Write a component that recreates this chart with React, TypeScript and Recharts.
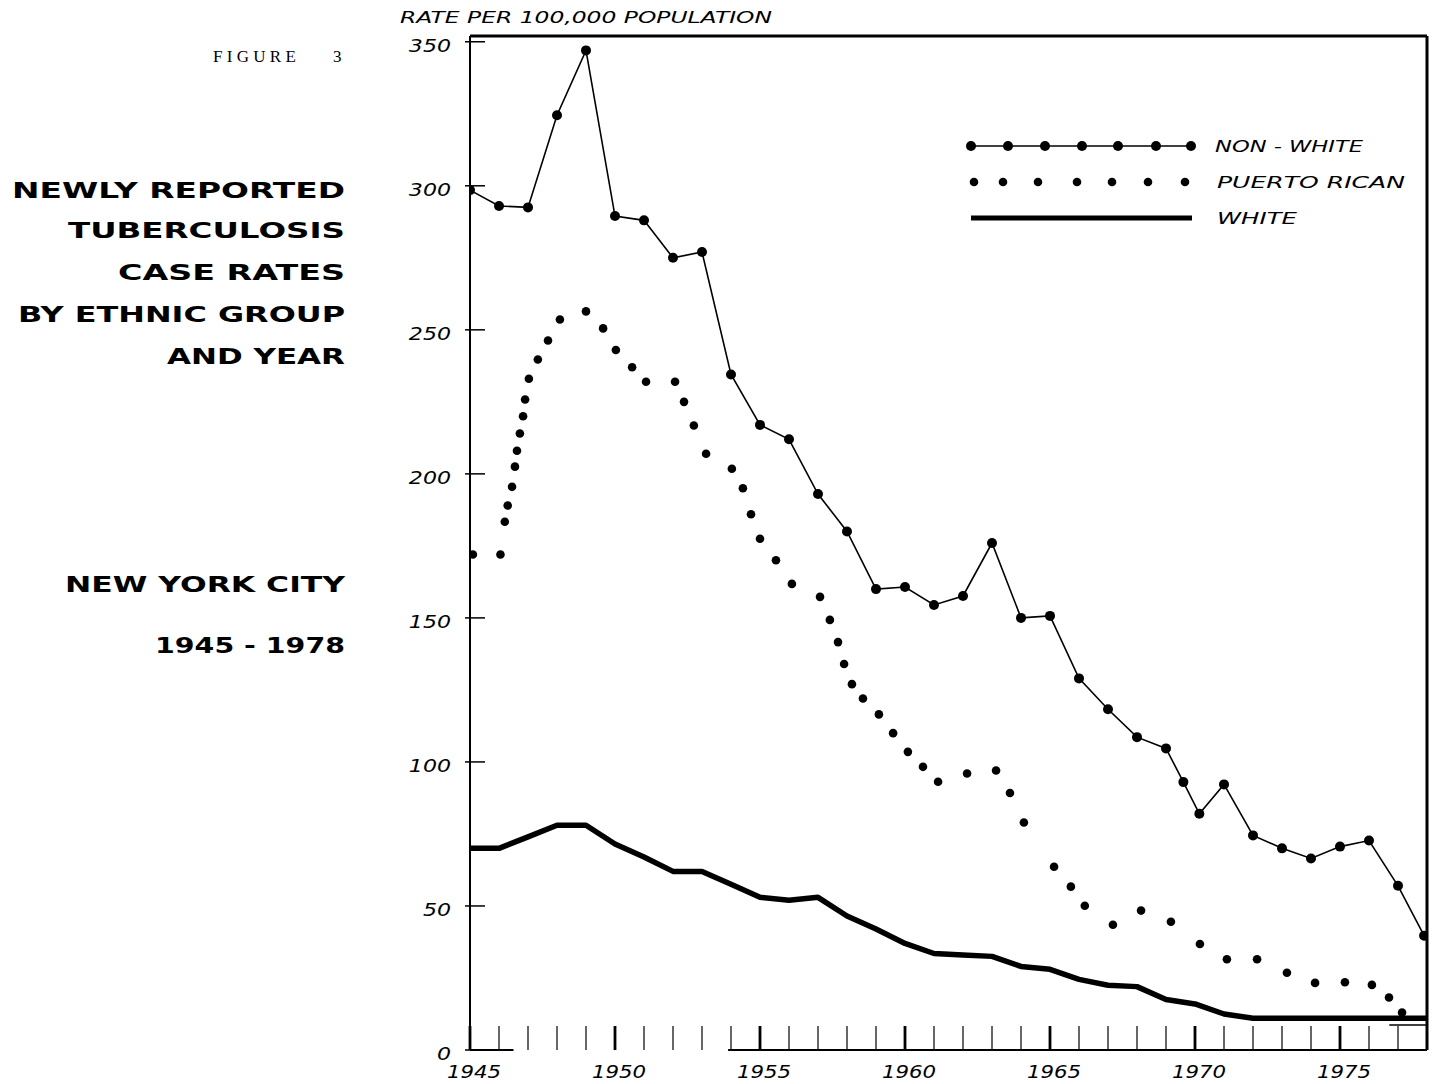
import React from "react";
import { ComposedChart, Line, XAxis, YAxis, ReferenceLine, Legend } from "recharts";

// Non-white: one point per year, plus an extra reading between 1969 and 1970
const nonWhiteYears = [
  1945, 1946, 1947, 1948, 1949, 1950, 1951, 1952, 1953, 1954, 1955, 1956, 1957,
  1958, 1959, 1960, 1961, 1962, 1963, 1964, 1965, 1966, 1967, 1968, 1969, 1969.6,
  1970.15, 1971, 1972, 1973, 1974, 1975, 1976, 1977, 1977.9,
];
const nonWhiteRates = [
  298.5, 293, 292.5, 324.5, 347, 289.5, 288, 275, 277, 234.5, 217, 212, 193,
  180, 160, 160.7, 154.5, 157.6, 176, 150, 150.7, 129, 118.3, 108.6, 104.7, 93,
  82, 92.2, 74.5, 70, 66.5, 70.6, 72.7, 57, 39.7,
];

// Puerto Rican: drawn as a dotted curve, each dot
const prYears = [
  1945.1, 1946.05, 1946.2, 1946.3, 1946.45, 1946.55, 1946.62, 1946.72, 1946.83,
  1946.9, 1947.03, 1947.34, 1947.69, 1948.1, 1949.0, 1949.59, 1950.03, 1950.59,
  1951.07, 1952.07, 1952.38, 1952.72, 1953.14, 1954.03, 1954.41, 1954.69,
  1955.0, 1955.55, 1956.1, 1957.07, 1957.41, 1957.69, 1957.9, 1958.17, 1958.55,
  1959.1, 1959.59, 1960.1, 1960.62, 1961.14, 1962.14, 1963.14, 1963.62, 1964.1,
  1965.14, 1965.72, 1966.2, 1967.17, 1968.14, 1969.17, 1970.17, 1971.1, 1972.14,
  1973.17, 1974.14, 1975.17, 1976.1, 1976.69, 1977.14,
];
const prRates = [
  172, 172, 183.4, 189, 195.5, 202.5, 208, 214, 220, 225.8, 233, 239.7, 246.3,
  253.6, 256.4, 250.5, 243, 237, 232, 232, 225, 216.8, 207, 201.8, 195, 186,
  177.5, 170, 161.8, 157.3, 149.3, 141.6, 134, 127, 122, 116.5, 110, 103.5, 98.3,
  93.1, 96, 97, 89.2, 79, 63.6, 56.7, 50.1, 43.5, 48.4, 44.5, 36.8, 31.5, 31.5,
  26.8, 23.3, 23.5, 22.6, 18.2, 13,
];

// White: heavy solid line
const whiteYears = [
  1945, 1946, 1947, 1948, 1949, 1950, 1951, 1952, 1953, 1954, 1955, 1956, 1957,
  1958, 1959, 1960, 1961, 1962, 1963, 1964, 1965, 1966, 1967, 1968, 1969, 1970,
  1971, 1972, 1973, 1974, 1975, 1976, 1977, 1978,
];
const whiteRates = [
  70, 70, 74, 78, 78, 71.5, 67, 62, 62, 57.5, 53, 52, 53, 46.5, 42, 37, 33.5, 33,
  32.5, 29, 28, 24.5, 22.5, 22, 17.5, 16, 12.5, 11, 11, 11, 11, 11, 11, 11,
];
const whiteTailYears = [1976.7, 1978];
const whiteTailRates = [8.7, 8.7];

const yTicks = [0, 50, 100, 150, 200, 250, 300, 350];
const xTicks = Array.from({ length: 34 }, (_, i) => 1945 + i);

const zip = (xs: number[], ys: number[]) => xs.map((year, i) => ({ year, rate: ys[i] }));
const nonWhiteData = zip(nonWhiteYears, nonWhiteRates);
const prData = zip(prYears, prRates);
const whiteData = zip(whiteYears, whiteRates);
const whiteTailData = zip(whiteTailYears, whiteTailRates);

const SANS = '"DejaVu Sans", Verdana, sans-serif';

function YTick({ x, y, payload }: any) {
  return (
    <g>
      <line x1={x - 5} x2={x + 15} y1={y} y2={y} stroke="#000" strokeWidth={1.5} />
      <text
        transform={`translate(${x - 19},${y + 10}) scale(1.3,1)`}
        textAnchor="end"
        fontFamily={SANS}
        fontStyle="italic"
        fontSize={17}
        fill="#000"
      >
        {payload.value}
      </text>
    </g>
  );
}

function XTick({ x, y, payload }: any) {
  const major = payload.value % 5 === 0;
  return (
    <g>
      <line x1={x} x2={x} y1={y - 24} y2={y} stroke="#000" strokeWidth={major ? 2.8 : 1.2} />
      {major && (
        <text
          transform={`translate(${x + 4},${y + 28}) scale(1.25,1)`}
          textAnchor="middle"
          fontFamily={SANS}
          fontStyle="italic"
          fontSize={17}
          fill="#000"
        >
          {payload.value}
        </text>
      )}
    </g>
  );
}

const legendLabel = {
  fontFamily: SANS,
  fontStyle: "italic" as const,
  fontSize: 15,
  fill: "#000",
  lengthAdjust: "spacingAndGlyphs" as const,
};

function LegendBox() {
  const nwDots = [21, 58, 95, 132, 168, 206, 241];
  const prDots = [24, 53, 88, 127, 162, 198, 235];
  return (
    <svg width={470} height={110}>
      <line x1={21} x2={241} y1={26} y2={26} stroke="#000" strokeWidth={1.6} />
      {nwDots.map((cx) => (
        <circle key={cx} cx={cx} cy={26} r={5} fill="#000" />
      ))}
      <text x={265} y={32} textLength={148} {...legendLabel}>NON - WHITE</text>
      {prDots.map((cx) => (
        <circle key={cx} cx={cx} cy={62} r={4.3} fill="#000" />
      ))}
      <text x={267} y={68} textLength={188} {...legendLabel}>PUERTO RICAN</text>
      <line x1={21} x2={242} y1={98} y2={98} stroke="#000" strokeWidth={5} />
      <text x={267} y={104} textLength={80} {...legendLabel}>WHITE</text>
    </svg>
  );
}

const titleLines = [
  { text: "NEWLY REPORTED", y: 198, w: 333 },
  { text: "TUBERCULOSIS", y: 238, w: 277 },
  { text: "CASE RATES", y: 280, w: 227 },
  { text: "BY ETHNIC GROUP", y: 322, w: 327 },
  { text: "AND YEAR", y: 364, w: 178 },
  { text: "NEW YORK CITY", y: 592, w: 280 },
  { text: "1945 - 1978", y: 653, w: 190 },
];

export default function App() {
  return (
    <div style={{ position: "absolute", left: 0, top: 0, width: 1437, height: 1084, background: "#fff" }}>
      <ComposedChart width={1437} height={1084} margin={{ top: 36, right: 10, bottom: 0, left: 0 }}>
        <XAxis
          dataKey="year"
          type="number"
          domain={[1945, 1978]}
          ticks={xTicks}
          interval={0}
          allowDataOverflow
          height={34}
          axisLine={false}
          tickLine={false}
          tickSize={0}
          tickMargin={0}
          tick={<XTick />}
        />
        <YAxis
          type="number"
          domain={[0, 352]}
          ticks={yTicks}
          interval={0}
          allowDataOverflow
          width={470}
          axisLine={{ stroke: "#000", strokeWidth: 2 }}
          tickLine={false}
          tickSize={0}
          tickMargin={0}
          tick={<YTick />}
        />
        <ReferenceLine y={352} stroke="#000" strokeWidth={3} />
        <ReferenceLine x={1978} stroke="#000" strokeWidth={3} />
        <ReferenceLine segment={[{ x: 1945, y: 0 }, { x: 1946.5, y: 0 }]} stroke="#000" strokeWidth={2} />
        <ReferenceLine segment={[{ x: 1953.9, y: 0 }, { x: 1978, y: 0 }]} stroke="#000" strokeWidth={2} />
        <Legend
          layout="horizontal"
          verticalAlign="middle"
          align="center"
          content={() => <LegendBox />}
          wrapperStyle={{ position: "absolute", left: 950, top: 120, width: 470, height: 110 }}
        />
        <Line
          data={whiteData}
          dataKey="rate"
          stroke="#000"
          strokeWidth={5.5}
          strokeLinejoin="round"
          dot={false}
          activeDot={false}
          isAnimationActive={false}
        />
        <Line
          data={whiteTailData}
          dataKey="rate"
          stroke="#000"
          strokeWidth={1.5}
          dot={false}
          activeDot={false}
          isAnimationActive={false}
        />
        <Line
          data={prData}
          dataKey="rate"
          stroke="none"
          dot={{ r: 4.3, fill: "#000", stroke: "none" }}
          activeDot={false}
          isAnimationActive={false}
        />
        <Line
          data={nonWhiteData}
          dataKey="rate"
          stroke="#000"
          strokeWidth={1.6}
          dot={{ r: 5, fill: "#000", stroke: "none" }}
          activeDot={false}
          isAnimationActive={false}
        />
      </ComposedChart>
      <svg
        width={800}
        height={700}
        style={{ position: "absolute", left: 0, top: 0, pointerEvents: "none" }}
      >
        <text
          x={400}
          y={23}
          textLength={372}
          lengthAdjust="spacingAndGlyphs"
          fontFamily={SANS}
          fontStyle="italic"
          fontSize={15}
          fill="#000"
        >
          RATE PER 100,000 POPULATION
        </text>
        <g fontFamily='"Liberation Serif", serif' fontSize={17} fill="#000">
          <text x={213} y={62} letterSpacing={4.3}>FIGURE</text>
          <text x={333} y={62}>3</text>
        </g>
        {titleLines.map((t) => (
          <text
            key={t.text}
            x={345 - t.w}
            y={t.y}
            textLength={t.w}
            lengthAdjust="spacingAndGlyphs"
            fontFamily={SANS}
            fontWeight="bold"
            fontSize={21}
            fill="#000"
          >
            {t.text}
          </text>
        ))}
      </svg>
    </div>
  );
}
